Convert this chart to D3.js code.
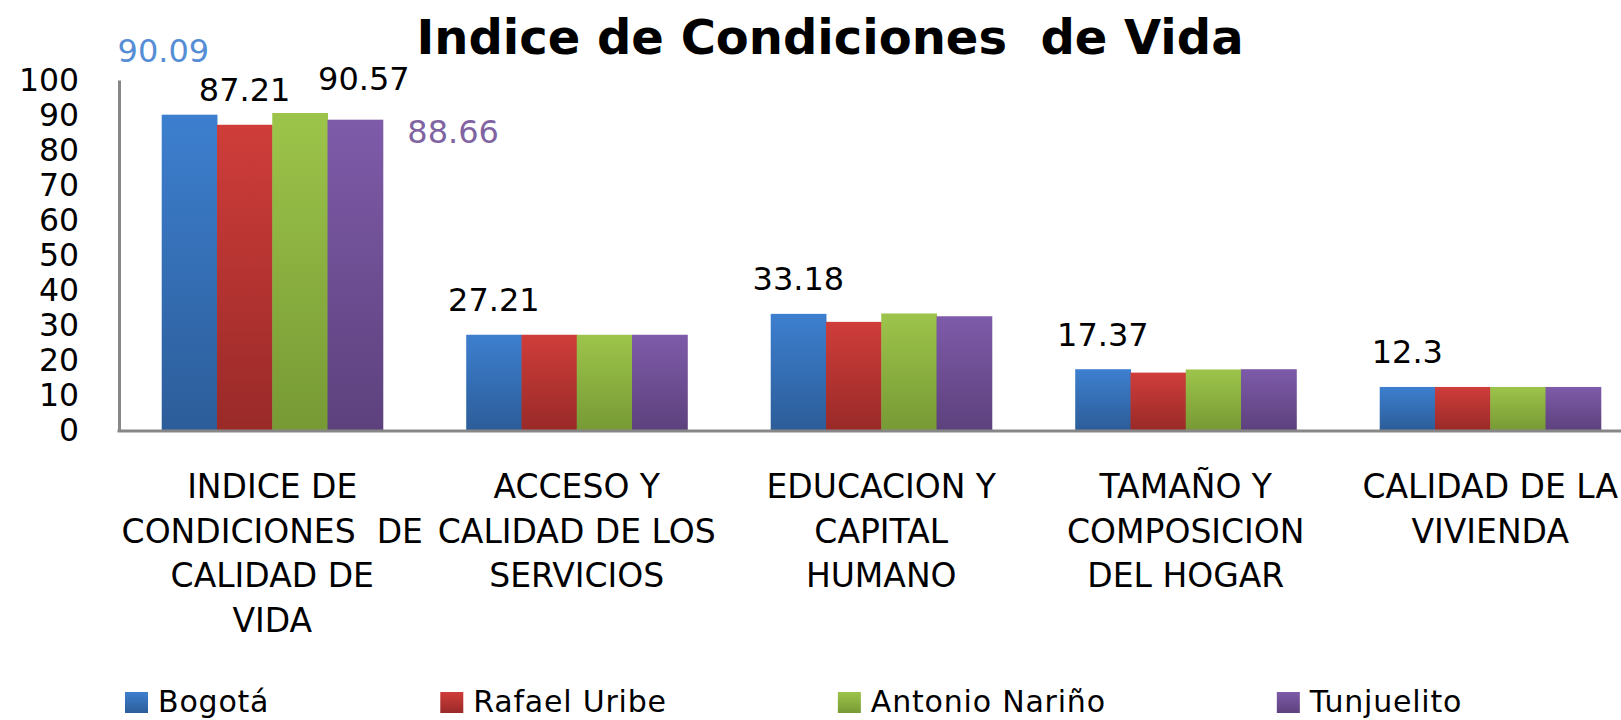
<!DOCTYPE html>
<html>
<head>
<meta charset="utf-8">
<script src="https://cdn.jsdelivr.net/npm/d3@7"></script>
<style>
  body { margin: 0; background: #fff; }
  svg { display: block; }
  text { font-family: "DejaVu Sans", sans-serif; }
</style>
</head>
<body>
<svg id="chart"></svg>
<script>

var width = 1621;
var height = 720;

// data
var categories = ["INDICE DE CONDICIONES DE CALIDAD DE VIDA", "ACCESO Y CALIDAD DE LOS SERVICIOS", "EDUCACION Y CAPITAL HUMANO", "TAMAÑO Y COMPOSICION DEL HOGAR", "CALIDAD DE LA VIVIENDA"];
var categoryLines = [
    ["INDICE DE", "CONDICIONES  DE", "CALIDAD DE", "VIDA"],
    ["ACCESO Y", "CALIDAD DE LOS", "SERVICIOS"],
    ["EDUCACION Y", "CAPITAL", "HUMANO"],
    ["TAMAÑO Y", "COMPOSICION", "DEL HOGAR"],
    ["CALIDAD DE LA", "VIVIENDA"]
];
var series = ["Bogotá", "Rafael Uribe", "Antonio Nariño", "Tunjuelito"];
var bogota = [90.09, 27.21, 33.18, 17.37, 12.3];
var rafaelUribe = [87.21, 27.21, 30.9, 16.4, 12.3];
var antonioNarino = [90.57, 27.21, 33.3, 17.3, 12.3];
var tunjuelito = [88.66, 27.21, 32.5, 17.37, 12.3];
var yTicks = [0, 10, 20, 30, 40, 50, 60, 70, 80, 90, 100];

// which bars carry a value label (series index, category index)
var labelled = [[0, 0], [1, 0], [2, 0], [3, 0], [0, 1], [0, 2], [0, 3], [0, 4]];

// styling / layout
var values = [bogota, rafaelUribe, antonioNarino, tunjuelito];
var topColors = ["#3d7fcf", "#cf3d3a", "#9dc44a", "#7e5ba9"];
var bottomColors = ["#2c5d99", "#992a28", "#779a35", "#5d417d"];
var labelColors = { "0-0": "#558ed5", "3-0": "#8064a2" };
var labelNudge = { "0-0": [-26, -29], "2-0": [64, 0], "3-0": [98, 47] };

var svg = d3.select("#chart").attr("width", width).attr("height", height);

var defs = svg.append("defs");
series.forEach(function(s, i) {
    var g = defs.append("linearGradient")
        .attr("id", "grad" + i)
        .attr("x1", 0).attr("y1", 0).attr("x2", 0).attr("y2", 1);
    g.append("stop").attr("offset", "0%").attr("stop-color", topColors[i]);
    g.append("stop").attr("offset", "100%").attr("stop-color", bottomColors[i]);
});

var x0 = d3.scaleBand()
    .domain(categories)
    .range([120, 1642.5])
    .paddingInner(0.274)
    .paddingOuter(0.137);

var x1 = d3.scaleBand()
    .domain(series)
    .range([0, x0.bandwidth()]);

var y = d3.scaleLinear()
    .domain([0, 100])
    .range([430, 80]);

// title
svg.append("text")
    .attr("x", 830)
    .attr("y", 54)
    .attr("text-anchor", "middle")
    .style("white-space", "pre")
    .style("font-weight", "bold")
    .style("font-size", "48px")
    .attr("fill", "#000")
    .text("Indice de Condiciones  de Vida");

// bars
var groups = svg.append("g").attr("class", "bars")
    .selectAll("g")
    .data(categories)
    .enter().append("g")
    .attr("transform", function(d) { return "translate(" + x0(d) + ",0)"; });

groups.selectAll("rect")
    .data(function(d, ci) {
        return series.map(function(s, si) { return { s: s, si: si, v: values[si][ci] }; });
    })
    .enter().append("rect")
    .attr("x", function(d) { return x1(d.s); })
    .attr("y", function(d) { return y(d.v); })
    .attr("width", x1.bandwidth() + 0.5)
    .attr("height", function(d) { return y(0) - y(d.v); })
    .attr("fill", function(d) { return "url(#grad" + d.si + ")"; });

// y axis
var yAxis = svg.append("g")
    .attr("transform", "translate(119,0)")
    .call(d3.axisLeft(y).tickValues(yTicks).tickSize(0).tickPadding(40));
yAxis.select(".domain").attr("stroke", "#878787").attr("stroke-width", 3);
yAxis.selectAll("text")
    .attr("fill", "#000")
    .style("font-family", "DejaVu Sans")
    .style("font-size", "31.5px");

// x axis
var xAxis = svg.append("g")
    .attr("transform", "translate(0,431)")
    .call(d3.axisBottom(x0).tickSize(0).tickFormat(""));
xAxis.select(".domain").attr("d", "M117.5,0H" + width).attr("stroke", "#878787").attr("stroke-width", 3);

xAxis.selectAll(".tick text").remove();
xAxis.selectAll(".tick").append("text")
    .attr("text-anchor", "middle")
    .attr("fill", "#000")
    .style("white-space", "pre")
    .style("font-size", "33px")
    .each(function(d) {
        var lines = categoryLines[categories.indexOf(d)];
        var t = d3.select(this);
        lines.forEach(function(l, i) {
            t.append("tspan").attr("x", 0).attr("y", 67 + i * 44.6).text(l);
        });
    });

// value labels
svg.append("g").attr("class", "labels")
    .selectAll("text")
    .data(labelled)
    .enter().append("text")
    .attr("text-anchor", "middle")
    .style("font-size", "32px")
    .attr("fill", function(d) { return labelColors[d[0] + "-" + d[1]] || "#000"; })
    .attr("x", function(d) {
        var n = labelNudge[d[0] + "-" + d[1]] || [0, 0];
        return x0(categories[d[1]]) + x1(series[d[0]]) + x1.bandwidth() / 2 + n[0];
    })
    .attr("y", function(d) {
        var n = labelNudge[d[0] + "-" + d[1]] || [0, 0];
        return y(values[d[0]][d[1]]) - 23.5 + n[1];
    })
    .text(function(d) { return values[d[0]][d[1]]; });

// legend
var legend = svg.append("g").attr("class", "legend");
var lx = 125;
series.forEach(function(s, i) {
    legend.append("rect")
        .attr("x", lx).attr("y", 692)
        .attr("width", 23).attr("height", 21)
        .attr("fill", "url(#grad" + i + ")");
    var t = legend.append("text")
        .attr("x", lx + 33).attr("y", 712)
        .attr("fill", "#000")
        .style("font-size", "30px")
        .style("letter-spacing", "0.8px")
        .text(s);
    lx = lx + 33 + t.node().getComputedTextLength() + 171;
});

</script>
</body>
</html>
